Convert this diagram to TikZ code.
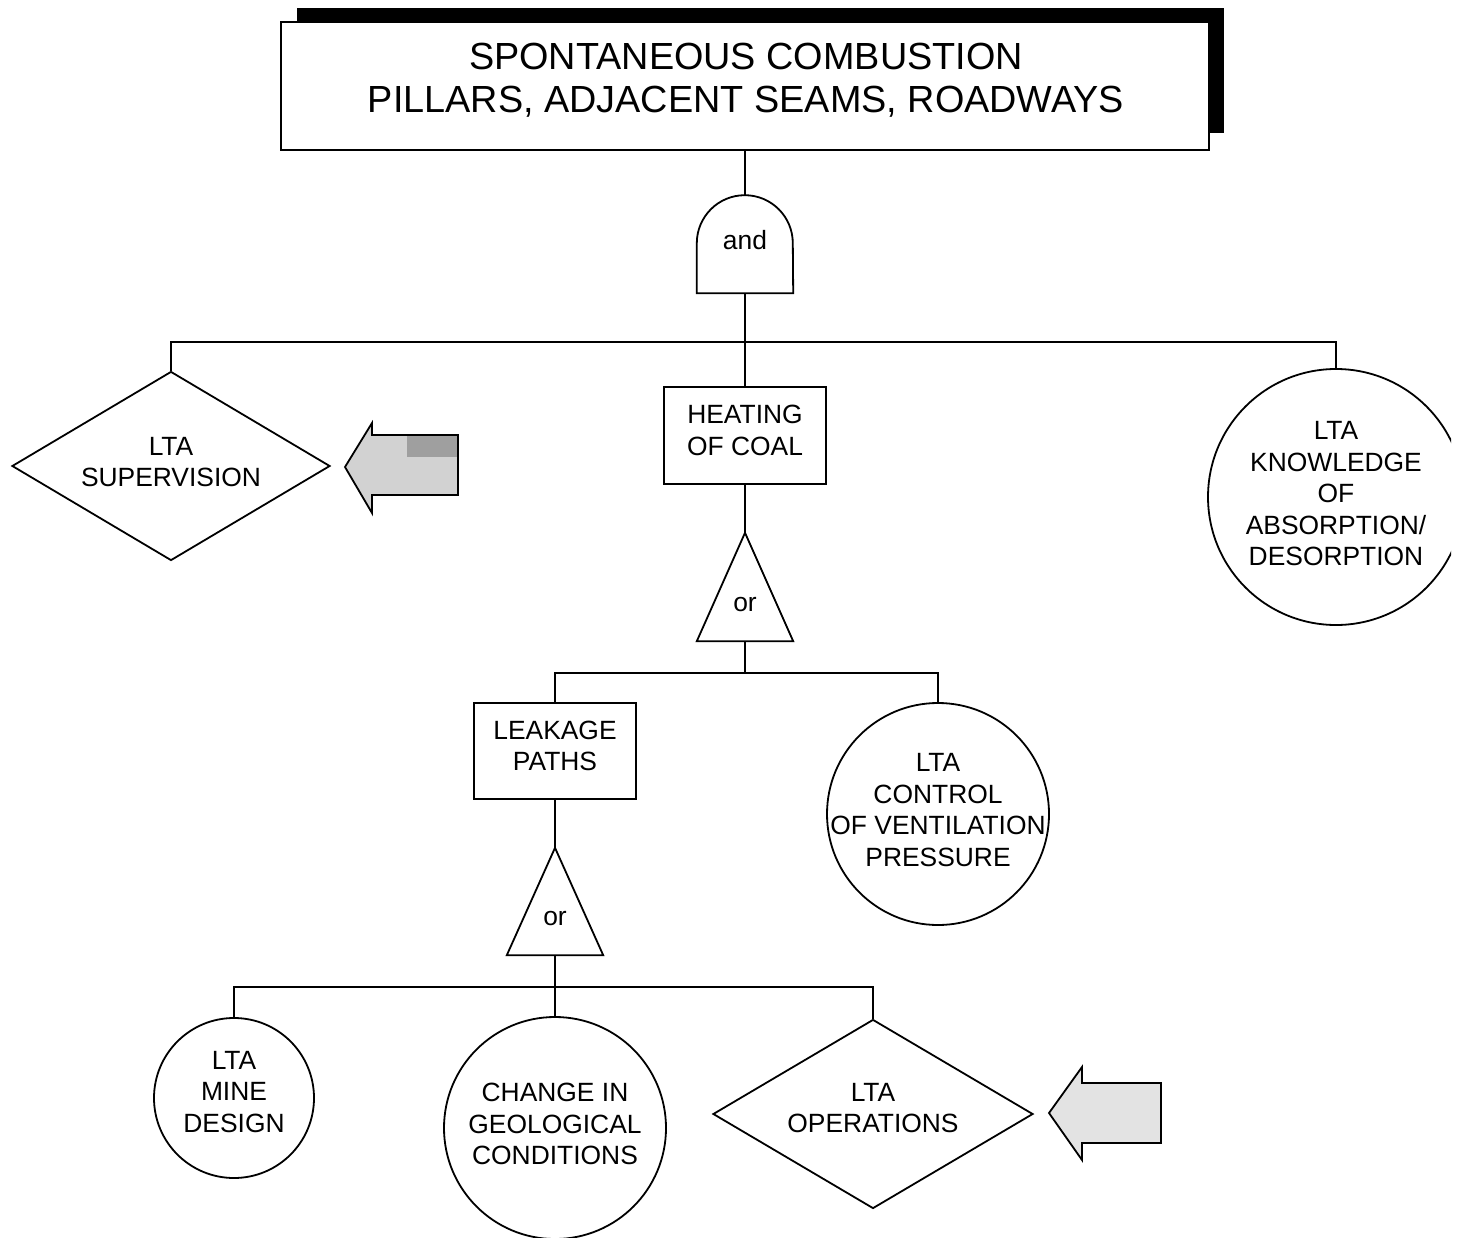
\documentclass[tikz,border=0pt]{standalone}
\usepackage{fontspec}
\setmainfont{Liberation Sans}
\usetikzlibrary{shapes.geometric,calc}
\begin{document}
\begin{tikzpicture}[x=1pt,y=-1pt,
  lw/.style={line width=1.8pt},
  lbl/.style={font=\fontsize{26.4}{31.5}\selectfont, align=center, inner sep=0pt},
  ttl/.style={font=\fontsize{37.8}{43}\selectfont, align=center, inner sep=0pt},
  evbox/.style={draw, lw, rectangle, inner sep=0pt, fill=white},
  evcirc/.style={draw, lw, circle, inner sep=0pt},
  evdiam/.style={draw, lw, diamond, inner sep=0pt},
  gatebox/.style={rectangle, inner sep=0pt},
  hint/.style={draw, lw, line join=miter}
]
\useasboundingbox (0,0) rectangle (1458,1238);

% top event with shadow
\fill[black] (297,8) rectangle (1224,133);
\node[evbox, minimum width=928pt, minimum height=128pt] (top) at (745,86) {};
\node[ttl] (toptxt) at (746,80) {SPONTANEOUS COMBUSTION\\PILLARS, ADJACENT SEAMS, ROADWAYS};

% and gate
\node[gatebox, minimum width=96pt, minimum height=98pt] (andg) at (745,244) {};
\draw[lw, line join=miter] (andg.south west) -- ++(0,-50) arc[start angle=180, end angle=0, radius=48pt] -- (andg.south east) -- cycle;
\node[lbl] at (745,240) {and};

% level 1 events
\node[evdiam, minimum width=318pt, minimum height=189pt] (sup) at (171,466) {};
\node[lbl] at ($(sup.center)+(0,-4)$) {LTA\\SUPERVISION};

\node[evbox, minimum width=162pt, minimum height=97pt] (heat) at (745,435.5) {};
\node[lbl] at ($(heat.center)+(0,-5)$) {HEATING\\OF COAL};

\begin{scope}
\clip (0,0) rectangle (1451,1238);
\node[evcirc, minimum size=256pt] (know) at (1336,497) {};
\end{scope}
\node[lbl] at ($(know.center)+(0,-3)$) {LTA\\KNOWLEDGE\\OF\\ABSORPTION/\\DESORPTION};

\coordinate (bar1) at (745,342);
\draw[lw] (top.south) -- (andg.north);
\draw[lw] (andg.south) -- (bar1);
\draw[lw] (sup.north) -- (sup.north |- bar1) -- (know.north |- bar1) -- (know.north);
\draw[lw] (bar1) -- (heat.north);

% or gate 1
\node[gatebox, minimum width=96pt, minimum height=108pt] (or1) at (745,587) {};
\draw[lw, line join=miter] (or1.north) -- (or1.south east) -- (or1.south west) -- cycle;
\node[lbl] at (745,605) {or};
\draw[lw] (heat.south) -- (or1.north);

% level 2 events
\coordinate (bar2) at (745,673);
\node[evbox, minimum width=162pt, minimum height=96pt] (leak) at (555,751) {};
\node[lbl] at ($(leak.center)+(0,-5)$) {LEAKAGE\\PATHS};
\node[evcirc, minimum size=222pt] (vent) at (938,814) {};
\node[lbl] at ($(vent.center)+(0,-4)$) {LTA\\CONTROL\\OF VENTILATION\\PRESSURE};
\draw[lw] (or1.south) -- (bar2);
\draw[lw] (leak.north) -- (leak.north |- bar2) -- (vent.north |- bar2) -- (vent.north);

% or gate 2
\node[gatebox, minimum width=96pt, minimum height=107pt] (or2) at (555,901.5) {};
\draw[lw, line join=miter] (or2.north) -- (or2.south east) -- (or2.south west) -- cycle;
\node[lbl] at (555,919) {or};
\draw[lw] (leak.south) -- (or2.north);

% level 3 events
\coordinate (bar3) at (555,987);
\node[evcirc, minimum size=160pt] (mine) at (234,1098) {};
\node[lbl] at ($(mine.center)+(0,-6)$) {LTA\\MINE\\DESIGN};
\node[evcirc, minimum size=222pt] (geo) at (555,1128) {};
\node[lbl] at ($(geo.center)+(0,-4)$) {CHANGE IN\\GEOLOGICAL\\CONDITIONS};
\node[evdiam, minimum width=320pt, minimum height=189pt] (ops) at (873,1114) {};
\node[lbl] at ($(ops.center)+(0,-6)$) {LTA\\OPERATIONS};
\draw[lw] (or2.south) -- (bar3) -- (geo.north);
\draw[lw] (mine.north) -- (mine.north |- bar3) -- (ops.north |- bar3) -- (ops.north);

% pointer arrows
\draw[hint, fill=gray!35] (345,467) -- (372,423) -- (372,435) -- (458,435) -- (458,495) -- (372,495) -- (372,513) -- cycle;
\fill[gray!75] (407,436) rectangle (457,457);
\draw[hint, fill=gray!22] (1049,1113) -- (1082,1067) -- (1082,1083) -- (1161,1083) -- (1161,1143) -- (1082,1143) -- (1082,1160) -- cycle;
\end{tikzpicture}
\end{document}
